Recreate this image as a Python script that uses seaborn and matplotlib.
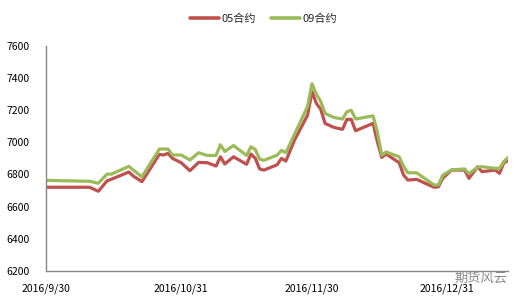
import matplotlib
matplotlib.use("Agg")
import matplotlib.pyplot as plt
import seaborn as sns
import pandas as pd

dates = ["2016-09-30", "2016-10-10", "2016-10-12", "2016-10-14", "2016-10-15",
         "2016-10-19", "2016-10-20", "2016-10-22", "2016-10-26", "2016-10-27",
         "2016-10-28", "2016-10-29", "2016-10-31", "2016-11-02", "2016-11-04",
         "2016-11-06", "2016-11-08", "2016-11-09", "2016-11-10", "2016-11-12",
         "2016-11-15", "2016-11-16", "2016-11-17", "2016-11-18", "2016-11-19",
         "2016-11-22", "2016-11-23", "2016-11-24", "2016-11-26", "2016-11-29",
         "2016-11-30", "2016-12-01", "2016-12-02", "2016-12-03", "2016-12-05",
         "2016-12-07", "2016-12-08", "2016-12-09", "2016-12-10", "2016-12-14",
         "2016-12-15", "2016-12-16", "2016-12-17", "2016-12-20", "2016-12-21",
         "2016-12-22", "2016-12-24", "2016-12-28", "2016-12-29", "2016-12-30",
         "2017-01-01", "2017-01-04", "2017-01-05", "2017-01-07", "2017-01-08",
         "2017-01-11", "2017-01-12", "2017-01-13", "2017-01-14"]

c05 = [6720, 6720, 6695, 6760, 6770, 6815, 6790, 6755, 6925, 6921,
       6931, 6900, 6873, 6823, 6875, 6873, 6852, 6910, 6865, 6910,
       6863, 6927, 6900, 6834, 6827, 6860, 6900, 6883, 7014, 7170,
       7315, 7243, 7206, 7118, 7093, 7081, 7143, 7143, 7072, 7118,
       7004, 6906, 6927, 6873, 6796, 6765, 6769, 6720, 6723, 6776,
       6827, 6827, 6776, 6848, 6817, 6827, 6807, 6873, 6885]

c09 = [6763, 6757, 6745, 6802, 6802, 6850, 6828, 6785, 6958, 6958,
       6958, 6921, 6921, 6890, 6935, 6918, 6918, 6985, 6943, 6980,
       6918, 6972, 6955, 6895, 6888, 6920, 6950, 6935, 7050, 7225,
       7365, 7300, 7255, 7180, 7155, 7145, 7190, 7200, 7145, 7165,
       7065, 6920, 6940, 6910, 6850, 6810, 6810, 6734, 6735, 6795,
       6828, 6834, 6805, 6845, 6848, 6838, 6838, 6880, 6906]

series_names = ["05合约", "09合约"]
tick_dates = ["2016-09-30", "2016-10-31", "2016-11-30", "2016-12-31"]
tick_labels = ["2016/9/30", "2016/10/31", "2016/11/30", "2016/12/31"]
y_ticks = [6200, 6400, 6600, 6800, 7000, 7200, 7400, 7600]

df = pd.DataFrame({
    "date": pd.to_datetime(dates * 2),
    "value": c05 + c09,
    "series": [series_names[0]] * len(dates) + [series_names[1]] * len(dates),
})

sns.set_style("white")
plt.rcParams["font.family"] = ["Noto Sans CJK SC", "DejaVu Sans"]

fig = plt.figure(figsize=(5.27, 3.02), dpi=100)
ax = fig.add_axes([0.0873, 0.1036, 0.877, 0.744])

sns.lineplot(data=df, x="date", y="value", hue="series",
             palette={"05合约": "#C0504D", "09合约": "#9BBB59"},
             linewidth=2.3, ax=ax)

ax.set_ylim(6200, 7600)
ax.set_yticks(y_ticks)
ax.set_yticklabels([str(v) for v in y_ticks])
ax.set_xlim(pd.Timestamp("2016-09-30"), pd.Timestamp("2017-01-14"))
ax.set_xticks(pd.to_datetime(tick_dates))
ax.set_xticklabels(tick_labels)
ax.set_xlabel("")
ax.set_ylabel("")

for s in ["top", "right"]:
    ax.spines[s].set_visible(False)
for s in ["left", "bottom"]:
    ax.spines[s].set_color("#868686")
    ax.spines[s].set_linewidth(1.0)
ax.tick_params(axis="both", which="both", direction="out", length=4,
               color="#868686", width=1.0, labelsize=7.5, labelcolor="#000000")
ax.tick_params(axis="y", pad=8)
ax.tick_params(axis="x", pad=5)
ax.grid(False)

sns.move_legend(ax, "center", bbox_to_anchor=(0.5, 0.937),
                bbox_transform=fig.transFigure, ncol=2, title=None,
                frameon=False, fontsize=8, handlelength=2.6,
                columnspacing=1.4, handletextpad=0.2)
for line in ax.get_legend().get_lines():
    line.set_linewidth(2.6)

fig.text(0.963, 0.078, "期货风云", ha="right", va="center", fontsize=9.5,
         color="#8a8a8a")

fig.savefig("out.png", dpi=100)
